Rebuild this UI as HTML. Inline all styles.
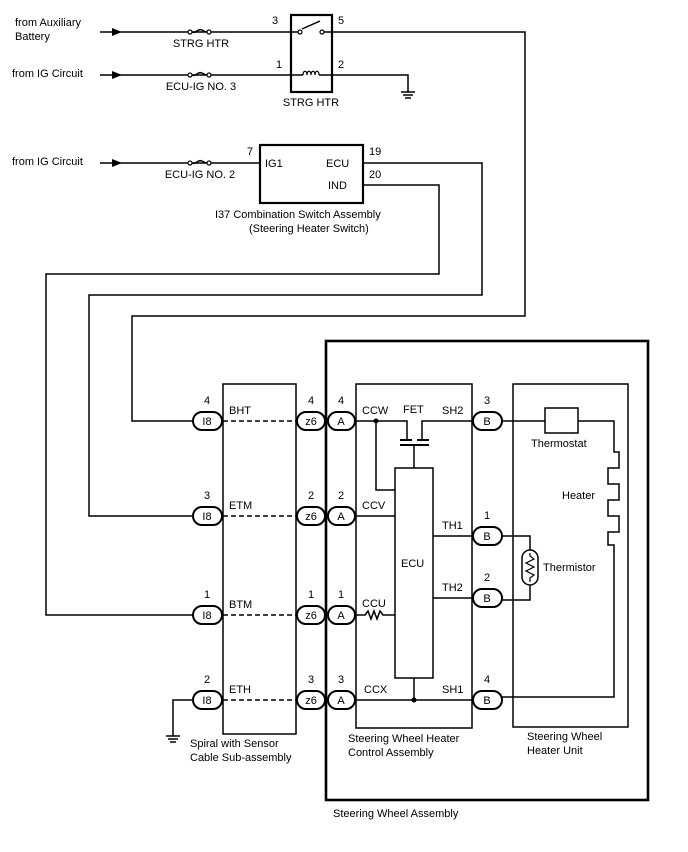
<!DOCTYPE html>
<html><head><meta charset="utf-8"><style>
html,body{margin:0;padding:0;background:#fff;}
svg{display:block;}
text{font-family:"Liberation Sans",Arial,sans-serif;font-size:11px;fill:#000;}
</style></head><body>
<svg width="688" height="852" viewBox="0 0 688 852" xmlns="http://www.w3.org/2000/svg">
<defs>
<g id="fuse"><circle cx="0" cy="0" r="2" fill="#fff" stroke="#000" stroke-width="1.2"/><path d="M2,0 C6,2 8,-4 12,-2 C14,-1 15,0 17,0" fill="none" stroke="#000" stroke-width="1.5"/><circle cx="19" cy="0" r="2" fill="#fff" stroke="#000" stroke-width="1.2"/></g>
<g id="gnd"><line x1="-7" y1="0" x2="7" y2="0" stroke="#000" stroke-width="1.5"/><line x1="-5" y1="3" x2="5" y2="3" stroke="#000" stroke-width="1.5"/><line x1="-3" y1="6" x2="3" y2="6" stroke="#000" stroke-width="1.5"/></g>
</defs>
<g stroke="#000" stroke-width="1.5" fill="none">
<!-- top wires -->
<line x1="100" y1="32" x2="291" y2="32"/>
<line x1="100" y1="75" x2="291" y2="75"/>
<line x1="100" y1="163" x2="260" y2="163"/>
<polyline points="332,32 525,32 525,316 132,316 132,421 193,421"/>
<polyline points="332,75 408,75 408,92"/>
<polyline points="363,163 482,163 482,295 89,295 89,516 193,516"/>
<polyline points="363,185 439,185 439,274 46,274 46,615 193,615"/>
<polyline points="193,700 173,700 173,736"/>
<!-- relay -->
<rect x="291" y="15" width="41" height="77" stroke-width="2.2"/>
<line x1="291" y1="32" x2="298" y2="32"/>
<line x1="324" y1="32" x2="332" y2="32"/>
<line x1="302" y1="29" x2="320" y2="21"/>
<line x1="291" y1="75" x2="303" y2="75"/>
<line x1="319" y1="75" x2="332" y2="75"/>
<path d="M303,75 c0,-5 4,-5 4,0 c0,-5 4,-5 4,0 c0,-5 4,-5 4,0 c0,-5 4,-5 4,0" stroke-width="1.3"/>
<!-- combo switch -->
<rect x="260" y="145" width="103" height="58" stroke-width="2.2"/>
<!-- outer thick -->
<rect x="326" y="341" width="322" height="459" stroke-width="2.6"/>
<!-- spiral box -->
<rect x="223" y="384" width="73" height="350"/>
<!-- control box -->
<rect x="356" y="384" width="116" height="344"/>
<!-- heater unit -->
<rect x="513" y="384" width="115" height="343"/>
<!-- dashed -->
<line x1="223" y1="421" x2="297" y2="421" stroke-dasharray="5,3"/>
<line x1="223" y1="516" x2="297" y2="516" stroke-dasharray="5,3"/>
<line x1="223" y1="615" x2="297" y2="615" stroke-dasharray="5,3"/>
<line x1="223" y1="700" x2="297" y2="700" stroke-dasharray="5,3"/>
<!-- control internals -->
<rect x="395" y="468" width="38" height="210"/>
<polyline points="355,421 407,421 407,440"/>
<polyline points="376,421 376,490 395,490"/>
<polyline points="472,421 422,421 422,440"/>
<line x1="400" y1="440" x2="412" y2="440" stroke-width="2"/>
<line x1="417" y1="440" x2="429" y2="440" stroke-width="2"/>
<line x1="400" y1="445" x2="429" y2="445" stroke-width="2"/>
<line x1="414" y1="445" x2="414" y2="468"/>
<line x1="355" y1="516" x2="395" y2="516"/>
<line x1="433" y1="536" x2="472" y2="536"/>
<line x1="433" y1="598" x2="472" y2="598"/>
<polyline points="355,615 365,615 368,611 371,619 374,611 377,619 380,611 383,615 395,615"/>
<line x1="355" y1="700" x2="472" y2="700"/>
<line x1="414" y1="678" x2="414" y2="700"/>
<!-- heater unit internals -->
<line x1="502" y1="421" x2="545" y2="421"/>
<rect x="545" y="408" width="33" height="25"/>
<polyline points="578,421 614,421 614,452 619,452 619,468 608,468 608,484 619,484 619,500 608,500 608,516 619,516 619,532 608,532 608,545 614,545 614,697 502,697"/>
<polyline points="502,536 530,536 530,550"/>
<polyline points="502,600 530,600 530,585"/>
<rect x="522" y="550" width="16" height="35" rx="8"/>
<polyline points="530,553 530,556 534,559 526,563 534,567 526,571 534,575 530,578 530,582" stroke-width="1.2"/>
</g>
<circle cx="376" cy="421" r="2.5"/>
<circle cx="414" cy="700" r="2.5"/>
<!-- arrows -->
<polygon points="112,28 122,32 112,36"/>
<polygon points="112,71 122,75 112,79"/>
<polygon points="112,159 122,163 112,167"/>
<use href="#fuse" x="190" y="32"/>
<use href="#fuse" x="190" y="75"/>
<use href="#fuse" x="190" y="163"/>
<circle cx="300" cy="32" r="2" fill="#fff" stroke="#000" stroke-width="1.2"/>
<circle cx="322" cy="32" r="2" fill="#fff" stroke="#000" stroke-width="1.2"/>
<use href="#gnd" x="408" y="92"/>
<use href="#gnd" x="173" y="736"/>
<!-- connectors -->
<g stroke="#000" stroke-width="2" fill="#fff">
<rect x="193" y="412" width="29" height="18" rx="9"/>
<rect x="193" y="507" width="29" height="18" rx="9"/>
<rect x="193" y="606" width="29" height="18" rx="9"/>
<rect x="193" y="691" width="29" height="18" rx="9"/>
<rect x="297" y="412" width="28" height="18" rx="9"/>
<rect x="297" y="507" width="28" height="18" rx="9"/>
<rect x="297" y="606" width="28" height="18" rx="9"/>
<rect x="297" y="691" width="28" height="18" rx="9"/>
<rect x="328" y="412" width="27" height="18" rx="9"/>
<rect x="328" y="507" width="27" height="18" rx="9"/>
<rect x="328" y="606" width="27" height="18" rx="9"/>
<rect x="328" y="691" width="27" height="18" rx="9"/>
<rect x="473" y="412" width="29" height="18" rx="9"/>
<rect x="473" y="527" width="29" height="18" rx="9"/>
<rect x="473" y="589" width="29" height="18" rx="9"/>
<rect x="473" y="691" width="29" height="18" rx="9"/>
</g>
<g text-anchor="middle">
<text x="207" y="425">I8</text><text x="207" y="520">I8</text><text x="207" y="619">I8</text><text x="207" y="704">I8</text>
<text x="311" y="425">z6</text><text x="311" y="520">z6</text><text x="311" y="619">z6</text><text x="311" y="704">z6</text>
<text x="341" y="425">A</text><text x="341" y="520">A</text><text x="341" y="619">A</text><text x="341" y="704">A</text>
<text x="487" y="425">B</text><text x="487" y="540">B</text><text x="487" y="602">B</text><text x="487" y="704">B</text>
<text x="207" y="404">4</text><text x="207" y="499">3</text><text x="207" y="598">1</text><text x="207" y="683">2</text>
<text x="311" y="404">4</text><text x="311" y="499">2</text><text x="311" y="598">1</text><text x="311" y="683">3</text>
<text x="341" y="404">4</text><text x="341" y="499">2</text><text x="341" y="598">1</text><text x="341" y="683">3</text>
<text x="487" y="404">3</text><text x="487" y="519">1</text><text x="487" y="581">2</text><text x="487" y="683">4</text>
<text x="201" y="47">STRG HTR</text>
<text x="201" y="90">ECU-IG NO. 3</text>
<text x="200" y="178">ECU-IG NO. 2</text>
<text x="311" y="106">STRG HTR</text>
</g>
<text x="15" y="26">from Auxiliary</text>
<text x="15" y="40">Battery</text>
<text x="12" y="77">from IG Circuit</text>
<text x="12" y="165">from IG Circuit</text>
<text x="272" y="24">3</text><text x="338" y="24">5</text>
<text x="276" y="68">1</text><text x="338" y="68">2</text>
<text x="247" y="155">7</text><text x="369" y="155">19</text><text x="369" y="178">20</text>
<text x="265" y="167">IG1</text><text x="326" y="167">ECU</text><text x="328" y="189">IND</text>
<text x="215" y="218">I37  Combination Switch Assembly</text>
<text x="249" y="232">(Steering Heater Switch)</text>
<text x="229" y="414">BHT</text><text x="229" y="509">ETM</text><text x="229" y="608">BTM</text><text x="229" y="693">ETH</text>
<text x="362" y="414">CCW</text><text x="403" y="413">FET</text><text x="442" y="414">SH2</text>
<text x="362" y="509">CCV</text><text x="442" y="529">TH1</text><text x="442" y="591">TH2</text>
<text x="362" y="607">CCU</text><text x="364" y="693">CCX</text><text x="442" y="693">SH1</text>
<text x="401" y="567">ECU</text>
<text x="531" y="447">Thermostat</text>
<text x="562" y="499">Heater</text>
<text x="543" y="571">Thermistor</text>
<text x="190" y="747">Spiral with Sensor</text>
<text x="190" y="761">Cable Sub-assembly</text>
<text x="348" y="742">Steering Wheel Heater</text>
<text x="348" y="756">Control Assembly</text>
<text x="527" y="740">Steering Wheel</text>
<text x="527" y="754">Heater Unit</text>
<text x="333" y="817">Steering Wheel Assembly</text>
</svg>
</body></html>
